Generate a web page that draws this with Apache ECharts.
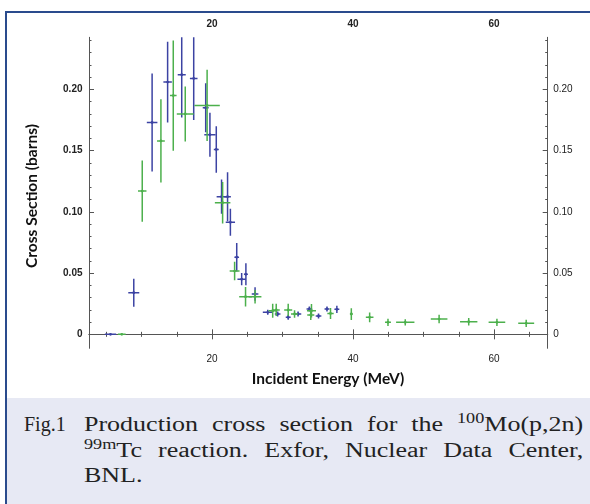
<!DOCTYPE html>
<html>
<head>
<meta charset="utf-8">
<script src="https://cdn.jsdelivr.net/npm/echarts@6/dist/echarts.min.js"></script>
<style>
  body { margin: 0; background: #fff; }
  #frame { position: absolute; left: 5px; top: 11px; width: 585px; height: 493px;
           border-left: 2px solid #2a4b8d; border-top: 2px solid #2a4b8d; box-sizing: border-box; }
  #main { position: absolute; left: 0; top: 0; width: 590px; height: 398px; }
  #cap { position: absolute; left: 7px; top: 398px; width: 583px; height: 106px; background: #e7e9f4;
         font-family: "Liberation Serif", "Times New Roman", serif; font-size: 20px; color: #222; }
  #cap .fig { position: absolute; left: 17px; top: 14px; line-height: 25.5px; }
  #cap .txt { position: absolute; left: 77px; top: 14px; width: 384px; line-height: 25.5px;
              transform: scaleX(1.3); transform-origin: 0 0; }
  #cap .ln { text-align: justify; text-align-last: justify; white-space: nowrap; }
  #cap .ln3 { text-align: left; }
  #cap sup { font-size: 14px; position: relative; top: -8px; vertical-align: baseline; line-height: 0; }
</style>
</head>
<body>
<div id="frame"></div>
<div id="main"></div>
<div id="cap">
  <div class="fig">Fig.1</div>
  <div class="txt">
    <div class="ln">Production cross section for the <sup>100</sup>Mo(p,2n)</div>
    <div class="ln"><sup>99m</sup>Tc reaction. Exfor, Nuclear Data Center,</div>
    <div class="ln3">BNL.</div>
  </div>
</div>
<script>
// 数据 (MeV, barns)
var blueX    = [5.6, 8.9, 11.5, 13.7, 15.7, 17.4, 19.1, 19.7, 20.6, 21.35, 22.2, 22.6, 23.5, 24.2, 24.8, 26.1, 27.9, 29.3, 30.8, 32.2, 33.8, 35.1, 36.3, 37.7];
var blueY    = [0, 0.034, 0.173, 0.206, 0.212, 0.209, 0.185, 0.163, 0.151, 0.1124, 0.1124, 0.0915, 0.063, 0.045, 0.049, 0.033, 0.018, 0.0166, 0.0139, 0.0166, 0.0207, 0.015, 0.0207, 0.0204];
var blueXErr = [0.8, 0.78, 0.75, 0.6, 0.57, 0.54, 0.42, 0.8, 0.35, 0.7, 0.47, 0.66, 0.33, 0.6, 0.28, 0.47, 0.7, 0.4, 0.35, 0.45, 0.4, 0.4, 0.35, 0.35];
var blueYErr = [0, 0.0115, 0.040, 0.033, 0.035, 0.034, 0.02, 0.018, 0.019, 0.014, 0.02, 0.011, 0.0116, 0.005, 0.009, 0.0055, 0.002, 0.002, 0.002, 0.002, 0.002, 0.002, 0.002, 0.003];

var greenX    = [7.2, 10.1, 12.75, 14.5, 16.2, 19.3, 21.5, 23.2, 24.75, 26.1, 28.6, 29.1, 30.8, 31.7, 34.1, 34.0, 36.8, 39.75, 42.35, 44.95, 47.4, 52.2, 56.4, 60.4, 64.55];
var greenY    = [0, 0.117, 0.158, 0.195, 0.180, 0.187, 0.1075, 0.0517, 0.0307, 0.0307, 0.0193, 0.0199, 0.0199, 0.0166, 0.0193, 0.0158, 0.0171, 0.0166, 0.0139, 0.0098, 0.0098, 0.0125, 0.0103, 0.0098, 0.009];
var greenXErr = [0.55, 0.6, 0.55, 0.47, 1.2, 1.8, 1.1, 0.7, 0.9, 0.9, 0.6, 0.5, 0.57, 0.5, 0.64, 0.5, 0.45, 0.2, 0.54, 0.42, 1.3, 1.18, 1.23, 1.18, 1.13];
var greenYErr = [0, 0.025, 0.034, 0.045, 0.0225, 0.029, 0.017, 0.0075, 0.008, 0.0055, 0.0057, 0.005, 0.005, 0.003, 0.0055, 0.004, 0.0045, 0.0048, 0.004, 0.003, 0.0026, 0.0034, 0.003, 0.003, 0.003];

var xMajor = [20, 40, 60];
var xMinor = [5, 10, 15, 20, 25, 30, 35, 40, 45, 50, 55, 60, 65];
var yMajor = [0, 0.05, 0.1, 0.15, 0.2];
var yMinor = [];
for (var k = 0; k <= 24; k++) yMinor.push(k / 100);

var xMin = 2.55, xMax = 67.6, yMin = -0.0114, yMax = 0.2426;

function zip(a, b, c, d) {
  return a.map(function (v, i) { return [v, b[i], c[i], d[i]]; });
}

function crossItem(color) {
  return function (params, api) {
    var x = api.value(0), y = api.value(1), dx = api.value(2), dy = api.value(3);
    var l = api.coord([x - dx, y]), r = api.coord([x + dx, y]);
    var t = api.coord([x, y + dy]), b = api.coord([x, y - dy]);
    var c = api.coord([x, y]);
    var st = { stroke: color, lineWidth: 1.5 };
    return {
      type: 'group',
      children: [
        { type: 'line', shape: { x1: l[0], y1: l[1], x2: r[0], y2: r[1] }, style: st },
        { type: 'line', shape: { x1: t[0], y1: t[1], x2: b[0], y2: b[1] }, style: st },
        { type: 'circle', shape: { cx: c[0], cy: c[1], r: 1.4 }, style: { fill: color } }
      ]
    };
  };
}

var lineCol = '#555';
function xAx(pos, major, bold) {
  return {
    type: 'value', position: pos, min: xMin, max: xMax,
    axisLine: { show: !major, lineStyle: { color: lineCol, width: 1 } },
    splitLine: { show: false },
    axisTick: { show: true, inside: true, length: major ? 5 : 2.5, customValues: major ? xMajor : xMinor,
                lineStyle: { color: lineCol, width: 1 } },
    axisLabel: { show: !major, customValues: xMajor, color: '#222', fontSize: 10,
                 fontFamily: 'Liberation Sans, Arial', fontWeight: bold ? 'bold' : 'normal',
                 margin: pos === 'top' ? 8 : 6 }
  };
}
function yAx(pos, major, bold) {
  return {
    type: 'value', position: pos, min: yMin, max: yMax,
    axisLine: { show: !major, lineStyle: { color: lineCol, width: 1 } },
    splitLine: { show: false },
    axisTick: { show: true, inside: true, length: major ? 5 : 2.5, customValues: major ? yMajor : yMinor,
                lineStyle: { color: lineCol, width: 1 } },
    axisLabel: { show: !major, customValues: yMajor, color: '#222', fontSize: 10,
                 fontFamily: 'Liberation Sans, Arial', fontWeight: bold ? 'bold' : 'normal',
                 margin: pos === 'left' ? 6.5 : 5.5,
                 formatter: function (v) { return v === 0 ? '0' : v.toFixed(2); } }
  };
}

var myChart = echarts.init(document.getElementById('main'));
var option = {
  animation: false,
  grid: { left: 89, top: 37.3, right: 42.3, bottom: 49.7 },
  xAxis: [xAx('bottom', false, false), xAx('bottom', true, false), xAx('top', false, true), xAx('top', true, true)],
  yAxis: [yAx('left', false, true), yAx('left', true, true), yAx('right', false, false), yAx('right', true, false)],
  graphic: [
    { type: 'text', x: 328, y: 371, style: { text: 'Incident Energy (MeV)', fill: '#111',
      font: 'bold 15.5px Lato, "Open Sans", sans-serif', align: 'center', verticalAlign: 'top' } },
    { type: 'text', x: 24, y: 196, rotation: Math.PI / 2, style: { text: 'Cross Section (barns)', fill: '#111',
      font: 'bold 15.5px Lato, "Open Sans", sans-serif', align: 'center', verticalAlign: 'top' } }
  ],
  series: [
    { type: 'custom', name: 'blue', clip: true, xAxisIndex: 0, yAxisIndex: 0,
      renderItem: crossItem('#3c43a3'), encode: { x: 0, y: 1 },
      data: zip(blueX, blueY, blueXErr, blueYErr) },
    { type: 'custom', name: 'green', clip: true, xAxisIndex: 0, yAxisIndex: 0,
      renderItem: crossItem('#4cb04c'), encode: { x: 0, y: 1 },
      data: zip(greenX, greenY, greenXErr, greenYErr) }
  ]
};
myChart.setOption(option);
</script>
</body>
</html>
